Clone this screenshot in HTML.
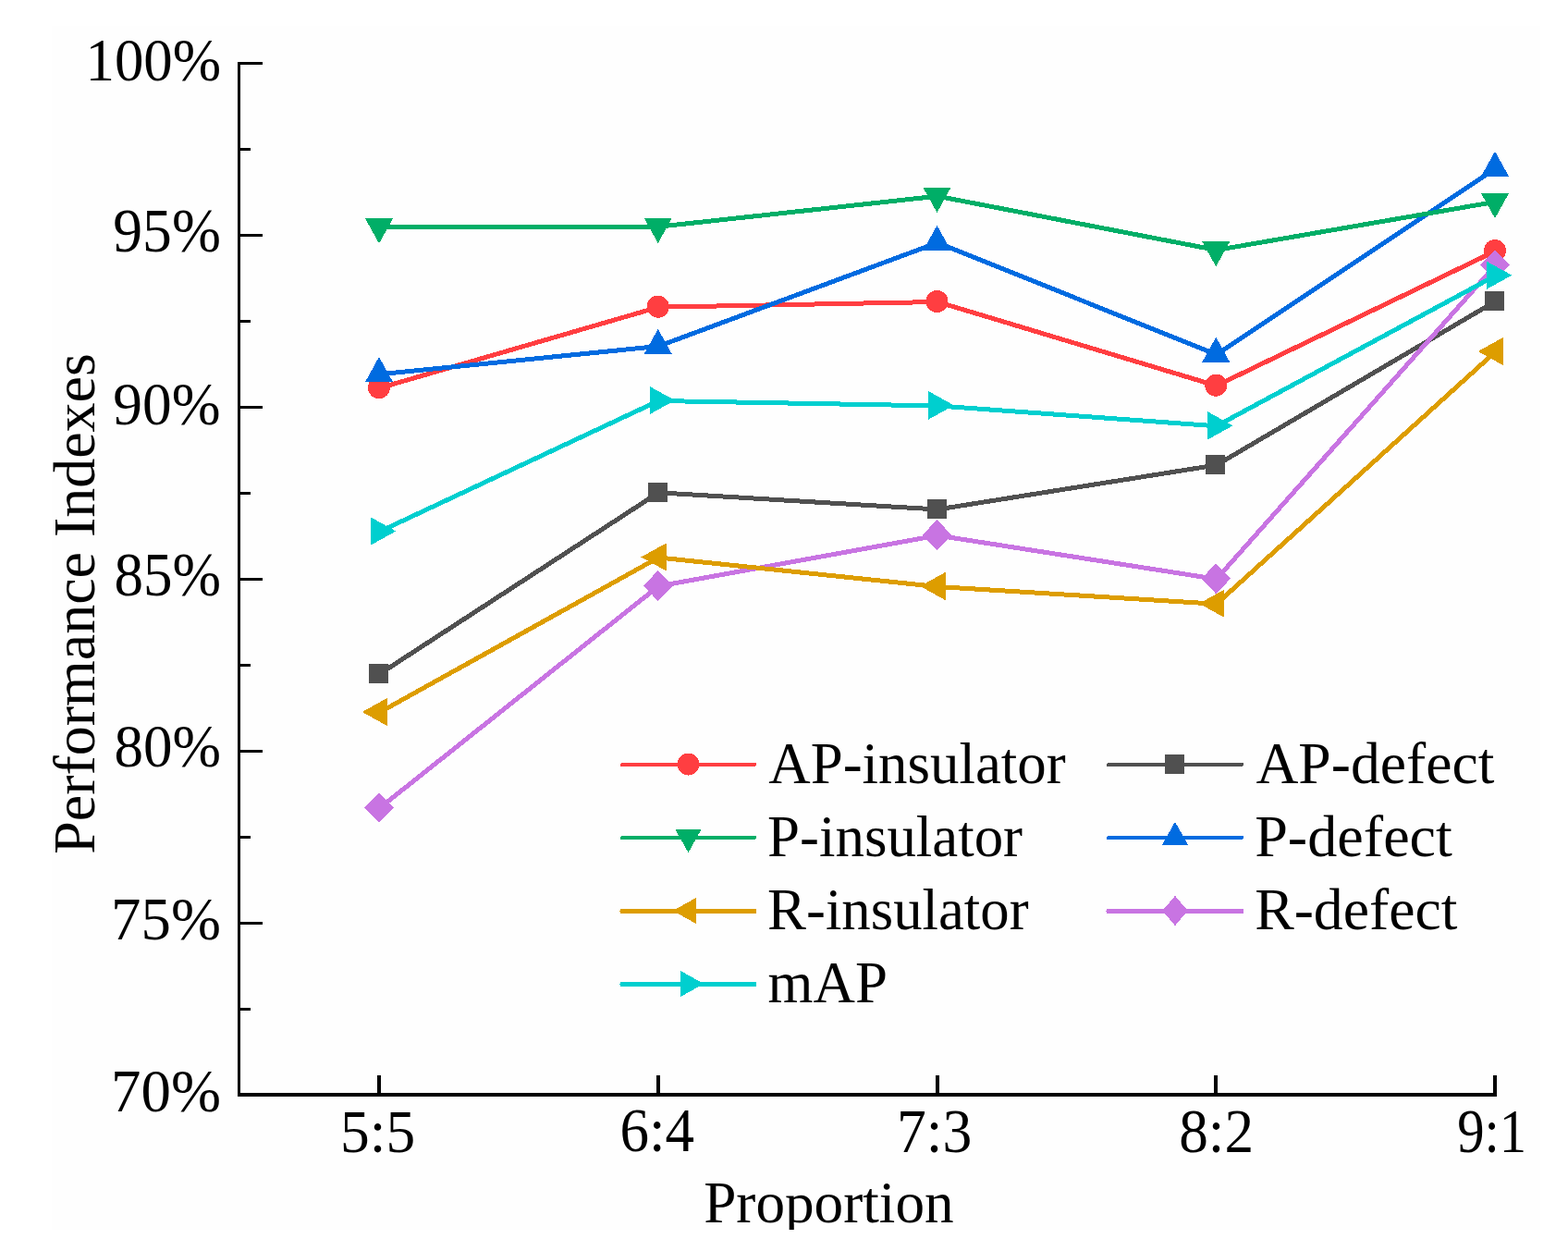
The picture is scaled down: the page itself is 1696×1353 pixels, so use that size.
<!DOCTYPE html>
<html><head><meta charset="utf-8"><title>Performance Indexes</title>
<style>
html,body{margin:0;padding:0;background:#ffffff;overflow:hidden;}
svg{display:block;}
text{font-family:"Liberation Serif","Times New Roman",serif;font-size:64px;fill:#000;}
</style></head><body>
<svg width="1696" height="1353" viewBox="0 0 1696 1353">
<rect x="0" y="0" width="1696" height="1353" fill="#ffffff"/>
<defs><clipPath id="pc"><rect x="56" y="28" width="1610" height="1302"/></clipPath></defs>
<rect x="56" y="28" width="1610" height="1302" fill="#fefefe"/>
<g clip-path="url(#pc)">
<g fill="#000" shape-rendering="crispEdges">
<rect x="257" y="67" width="3" height="1119"/>
<rect x="257" y="1182" width="1362" height="4"/>
<rect x="257" y="67" width="27" height="3"/>
<rect x="257" y="160" width="14" height="3"/>
<rect x="257" y="253" width="27" height="3"/>
<rect x="257" y="346" width="14" height="3"/>
<rect x="257" y="439" width="27" height="3"/>
<rect x="257" y="532" width="14" height="3"/>
<rect x="257" y="625" width="27" height="3"/>
<rect x="257" y="718" width="14" height="3"/>
<rect x="257" y="811" width="27" height="3"/>
<rect x="257" y="904" width="14" height="3"/>
<rect x="257" y="997" width="27" height="3"/>
<rect x="257" y="1090" width="14" height="3"/>
<rect x="408" y="1163" width="4" height="20"/>
<rect x="710" y="1163" width="4" height="20"/>
<rect x="1012" y="1163" width="4" height="20"/>
<rect x="1313" y="1163" width="4" height="20"/>
<rect x="1615" y="1163" width="4" height="20"/>
</g>
<text transform="matrix(0.9819,0,0,1.0402,92.4745,87.3901)">100%</text>
<text transform="matrix(0.994,0,0,1.0426,122.3029,272.4889)">95%</text>
<text transform="matrix(0.9904,0,0,1.0332,122.3104,458.8935)">90%</text>
<text transform="matrix(0.9847,0,0,1.0402,123.4671,644.3901)">85%</text>
<text transform="matrix(0.9847,0,0,1.0355,123.4671,829.1924)">80%</text>
<text transform="matrix(1.0131,0,0,1.0402,120.1054,1016.4901)">75%</text>
<text transform="matrix(1.0131,0,0,1.0379,120.1054,1202.2912)">70%</text>
<text transform="matrix(0.9914,0,0,1.0382,368.0637,1246.0033)">5:5</text>
<text transform="matrix(0.9851,0,0,1.0525,670.4727,1245.2047)">6:4</text>
<text transform="matrix(0.9952,0,0,1.0685,969.881,1245.9762)">7:3</text>
<text transform="matrix(0.9875,0,0,1.069,1275.2604,1245.997)">8:2</text>
<text transform="matrix(0.9171,0,0,1.0479,1576.165,1245.511)">9:1</text>
<text transform="matrix(0.9878,0,0,1,761.1794,1321.9)">Proportion</text>
<text transform="matrix(0.9826,0,0,1,831.2835,846.6)">AP-insulator</text>
<text transform="matrix(0.9827,0,0,1,830.0887,925.8)">P-insulator</text>
<text transform="matrix(0.9813,0,0,1,830.0914,1004.9)">R-insulator</text>
<text transform="matrix(0.9832,0,0,1,830.562,1084)">mAP</text>
<text transform="matrix(0.9945,0,0,1,1358.376,846.8)">AP-defect</text>
<text transform="matrix(1.0026,0,0,1,1357.152,925.8)">P-defect</text>
<text transform="matrix(0.9952,0,0,1,1357.1657,1004.9)">R-defect</text>
<text transform="translate(101.5,923.7424) rotate(-90) scale(0.9996,1)">Performance Indexes</text>
<g shape-rendering="crispEdges">
<polyline points="410.00,419.20 711.75,331.70 1013.50,326.00 1315.25,416.70 1617.00,271.00" fill="none" stroke="#FF3E41" stroke-width="5" stroke-linejoin="round" transform="translate(0.5,0.5)"/>
<circle cx="410.00" cy="419.20" r="12" fill="#FF3E41"/>
<circle cx="711.75" cy="331.70" r="12" fill="#FF3E41"/>
<circle cx="1013.50" cy="326.00" r="12" fill="#FF3E41"/>
<circle cx="1315.25" cy="416.70" r="12" fill="#FF3E41"/>
<circle cx="1617.00" cy="271.00" r="12" fill="#FF3E41"/>
<polyline points="410.00,728.50 711.75,532.30 1013.50,550.50 1315.25,502.50 1617.00,325.40" fill="none" stroke="#505050" stroke-width="5" stroke-linejoin="round" transform="translate(0.5,0.5)"/>
<rect x="399.00" y="718.00" width="21.00" height="21.00" fill="#505050"/>
<rect x="700.75" y="521.80" width="21.00" height="21.00" fill="#505050"/>
<rect x="1002.50" y="540.00" width="21.00" height="21.00" fill="#505050"/>
<rect x="1304.25" y="492.00" width="21.00" height="21.00" fill="#505050"/>
<rect x="1606.00" y="314.90" width="21.00" height="21.00" fill="#505050"/>
<polyline points="410.00,404.30 711.75,374.00 1013.50,262.00 1315.25,382.90 1617.00,182.00" fill="none" stroke="#006BE0" stroke-width="5" stroke-linejoin="round" transform="translate(0.5,0.5)"/>
<polygon points="410.00,386.03 425.20,413.43 394.80,413.43" fill="#006BE0"/>
<polygon points="711.75,355.73 726.95,383.13 696.55,383.13" fill="#006BE0"/>
<polygon points="1013.50,243.73 1028.70,271.13 998.30,271.13" fill="#006BE0"/>
<polygon points="1315.25,364.63 1330.45,392.03 1300.05,392.03" fill="#006BE0"/>
<polygon points="1617.00,163.73 1632.20,191.13 1601.80,191.13" fill="#006BE0"/>
<polyline points="410.00,245.00 711.75,244.70 1013.50,211.70 1315.25,270.00 1617.00,217.80" fill="none" stroke="#00AE67" stroke-width="5" stroke-linejoin="round" transform="translate(0.5,0.5)"/>
<polygon points="410.00,263.27 425.20,235.87 394.80,235.87" fill="#00AE67"/>
<polygon points="711.75,262.97 726.95,235.57 696.55,235.57" fill="#00AE67"/>
<polygon points="1013.50,229.97 1028.70,202.57 998.30,202.57" fill="#00AE67"/>
<polygon points="1315.25,288.27 1330.45,260.87 1300.05,260.87" fill="#00AE67"/>
<polygon points="1617.00,236.07 1632.20,208.67 1601.80,208.67" fill="#00AE67"/>
<polyline points="410.00,873.50 711.75,633.50 1013.50,578.60 1315.25,625.80 1617.00,286.50" fill="none" stroke="#C874E2" stroke-width="5" stroke-linejoin="round" transform="translate(0.5,0.5)"/>
<polygon points="410.00,857.00 425.75,873.50 410.00,890.00 394.25,873.50" fill="#C874E2"/>
<polygon points="711.75,617.00 727.50,633.50 711.75,650.00 696.00,633.50" fill="#C874E2"/>
<polygon points="1013.50,562.10 1029.25,578.60 1013.50,595.10 997.75,578.60" fill="#C874E2"/>
<polygon points="1315.25,609.30 1331.00,625.80 1315.25,642.30 1299.50,625.80" fill="#C874E2"/>
<polygon points="1617.00,270.00 1632.75,286.50 1617.00,303.00 1601.25,286.50" fill="#C874E2"/>
<polyline points="410.00,770.00 711.75,602.50 1013.50,634.00 1315.25,652.70 1617.00,380.00" fill="none" stroke="#DD9D00" stroke-width="5" stroke-linejoin="round" transform="translate(0.5,0.5)"/>
<polygon points="391.73,770.00 419.13,754.80 419.13,785.20" fill="#DD9D00"/>
<polygon points="693.48,602.50 720.88,587.30 720.88,617.70" fill="#DD9D00"/>
<polygon points="995.23,634.00 1022.63,618.80 1022.63,649.20" fill="#DD9D00"/>
<polygon points="1296.98,652.70 1324.38,637.50 1324.38,667.90" fill="#DD9D00"/>
<polygon points="1598.73,380.00 1626.13,364.80 1626.13,395.20" fill="#DD9D00"/>
<polyline points="410.00,574.50 711.75,433.00 1013.50,438.40 1315.25,460.30 1617.00,297.70" fill="none" stroke="#00CFCF" stroke-width="5" stroke-linejoin="round" transform="translate(0.5,0.5)"/>
<polygon points="428.27,574.50 400.87,559.30 400.87,589.70" fill="#00CFCF"/>
<polygon points="730.02,433.00 702.62,417.80 702.62,448.20" fill="#00CFCF"/>
<polygon points="1031.77,438.40 1004.37,423.20 1004.37,453.60" fill="#00CFCF"/>
<polygon points="1333.52,460.30 1306.12,445.10 1306.12,475.50" fill="#00CFCF"/>
<polygon points="1635.27,297.70 1607.87,282.50 1607.87,312.90" fill="#00CFCF"/>
</g>
<g shape-rendering="crispEdges">
<line x1="673.00" y1="827" x2="816.00" y2="827" stroke="#FF3E41" stroke-width="4" stroke-linecap="round"/>
<circle cx="744.50" cy="826.50" r="12" fill="#FF3E41"/>
<line x1="1199.00" y1="827" x2="1343.00" y2="827" stroke="#505050" stroke-width="4" stroke-linecap="round"/>
<rect x="1260.00" y="816.00" width="21.00" height="21.00" fill="#505050"/>
<line x1="673.00" y1="906" x2="816.00" y2="906" stroke="#00AE67" stroke-width="4" stroke-linecap="round"/>
<polygon points="744.50,922.17 758.50,897.17 730.50,897.17" fill="#00AE67"/>
<line x1="1199.00" y1="906" x2="1343.00" y2="906" stroke="#006BE0" stroke-width="4" stroke-linecap="round"/>
<polygon points="1271.00,888.83 1285.00,913.83 1257.00,913.83" fill="#006BE0"/>
<line x1="673.00" y1="985.5" x2="816.00" y2="985.5" stroke="#DD9D00" stroke-width="5" stroke-linecap="round"/>
<polygon points="727.83,985.00 752.83,971.00 752.83,999.00" fill="#DD9D00"/>
<line x1="1199.00" y1="985.5" x2="1343.00" y2="985.5" stroke="#C874E2" stroke-width="5" stroke-linecap="round"/>
<polygon points="1271.00,968.85 1284.70,985.00 1271.00,1001.15 1257.30,985.00" fill="#C874E2"/>
<line x1="673.00" y1="1064.5" x2="816.00" y2="1064.5" stroke="#00CFCF" stroke-width="5" stroke-linecap="round"/>
<polygon points="761.17,1064.00 736.17,1050.00 736.17,1078.00" fill="#00CFCF"/>
</g>
</g></svg></body></html>
